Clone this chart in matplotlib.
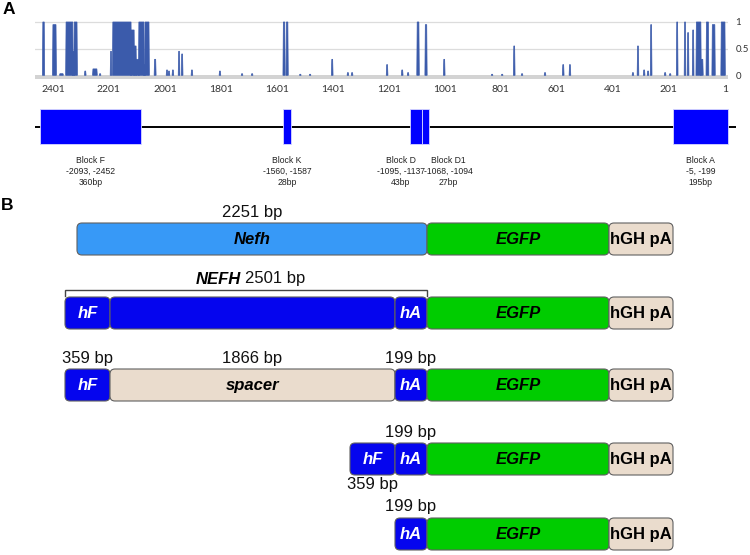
import matplotlib
matplotlib.use("Agg")
import matplotlib.pyplot as plt
from matplotlib.patches import FancyBboxPatch, Rectangle

# ------------------------------------------------------------------
# Panel A data: conservation track (position upstream, score 0..1)
# ------------------------------------------------------------------
tick_positions = [2401, 2201, 2001, 1801, 1601, 1401, 1201, 1001, 801, 601, 401, 201, 1]
ytick_values = [0, 0.5, 1]
ytick_labels = ["0", "0.5", "1"]

peak_left = [2437, 2401, 2376, 2354, 2330, 2325, 2287, 2258, 2234, 2195,
             2187, 2122, 2111, 2104, 2094, 2076, 2072, 2038, 1995, 1988,
             1974, 1952, 1941, 1906, 1806, 1727, 1691, 1578, 1567, 1519,
             1484, 1405, 1349, 1334, 1209, 1155, 1134, 1100, 1071, 1005,
             834, 798, 755, 727, 645, 580, 556, 331, 313, 291,
             277, 266, 216, 198, 173, 145, 134, 116, 103, 87,
             67, 46, 14]
peak_right = [2432, 2390, 2365, 2330, 2325, 2315, 2284, 2244, 2231, 2192,
              2122, 2111, 2104, 2094, 2076, 2072, 2058, 2034, 1992, 1985,
              1971, 1949, 1938, 1903, 1803, 1724, 1688, 1573, 1562, 1516,
              1481, 1402, 1346, 1331, 1206, 1152, 1131, 1094, 1066, 1002,
              831, 795, 752, 724, 642, 577, 553, 328, 310, 288,
              274, 263, 213, 195, 170, 142, 131, 113, 87, 80,
              60, 37, 1]
peak_height = [1.0, 0.95, 0.03, 1.0, 0.45, 1.0, 0.08, 0.12, 0.03, 0.45,
               1.0, 0.85, 0.55, 0.3, 1.0, 0.2, 1.0, 0.3, 0.1, 0.08,
               0.1, 0.45, 0.4, 0.1, 0.08, 0.03, 0.03, 1.0, 1.0, 0.02,
               0.02, 0.3, 0.05, 0.05, 0.2, 0.1, 0.05, 1.0, 0.95, 0.3,
               0.02, 0.02, 0.55, 0.03, 0.05, 0.2, 0.2, 0.05, 0.55, 0.1,
               0.08, 0.95, 0.05, 0.03, 1.0, 1.0, 0.8, 0.85, 1.0, 0.3,
               1.0, 0.95, 1.0]

block_names = ["Block F", "Block K", "Block D", "Block D1", "Block A"]
block_start = [-2093, -1560, -1095, -1068, -5]
block_end = [-2452, -1587, -1137, -1094, -199]
block_len = [360, 28, 43, 27, 195]

# ------------------------------------------------------------------
# Panel B data: constructs
# ------------------------------------------------------------------
construct_segments = [
    ["Nefh", "EGFP", "hGH pA"],
    ["hF", "core", "hA", "EGFP", "hGH pA"],
    ["hF", "spacer", "hA", "EGFP", "hGH pA"],
    ["hF", "hA", "EGFP", "hGH pA"],
    ["hA", "EGFP", "hGH pA"],
]
labels_above = [
    [("Nefh", "2251 bp")],
    [],
    [("hF", "359 bp"), ("spacer", "1866 bp"), ("hA", "199 bp")],
    [("hA", "199 bp")],
    [("hA", "199 bp")],
]
labels_below = [[], [], [], [("hF", "359 bp")], []]
bracket_row = 1
bracket_span = ("hF", "hA")
bracket_name = "NEFH"
bracket_bp = "2501 bp"

# ------------------------------------------------------------------
# Styles / layout
# ------------------------------------------------------------------
FONT = "Liberation Sans"
CONS_COLOR = "#3b5bab"
seg_style = {
    "Nefh":   dict(fc="#3799f7", text="Nefh",   tc="black", style="italic", width=350),
    "core":   dict(fc="#0505ee", text="",       tc="white", style="italic", width=285),
    "spacer": dict(fc="#eadccd", text="spacer", tc="black", style="italic", width=285),
    "hF":     dict(fc="#0505ee", text="hF",     tc="white", style="italic", width=45),
    "hA":     dict(fc="#0505ee", text="hA",     tc="white", style="italic", width=32),
    "EGFP":   dict(fc="#00cc00", text="EGFP",   tc="black", style="italic", width=182),
    "hGH pA": dict(fc="#eadccd", text="hGH pA", tc="black", style="normal", width=64),
}
row_tops = [223, 297, 369, 443, 518]
BOX_H = 32
ROW_END = 673

W, H = 750, 555
fig = plt.figure(figsize=(W / 100, H / 100), dpi=100)

def fr(x0, y0, x1, y1):
    return [x0 / W, 1 - y1 / H, (x1 - x0) / W, (y1 - y0) / H]

# ---------------- conservation plot ----------------
ax1 = fig.add_axes(fr(35, 19, 728, 80))
ax1.set_xlim(2465, -10)
ax1.set_ylim(-0.088, 1.056)
for yv in (0.5, 1.0):
    ax1.axhline(yv, color="#dcdcdc", lw=0.9, zorder=0)
ax1.axhspan(-0.078, 0, color="#d3d3d3", lw=0, zorder=1)
for l, r, h in zip(peak_left, peak_right, peak_height):
    ax1.fill([l + 1.5, l, r, r - 1.5], [0, h, h, 0], color=CONS_COLOR,
             ec=CONS_COLOR, lw=0.5, zorder=2)
ax1.set_xticks(tick_positions)
ax1.set_xticklabels([str(t) for t in tick_positions])
ax1.set_yticks(ytick_values)
ax1.set_yticklabels(ytick_labels)
ax1.yaxis.tick_right()
ax1.tick_params(axis="x", length=0, pad=3.5, labelsize=7.5, labelcolor="#333333")
ax1.tick_params(axis="y", length=0, pad=5.5, labelsize=7, labelcolor="#333333")
for lab in ax1.get_xticklabels() + ax1.get_yticklabels():
    lab.set_fontfamily("Lato")
for s in ax1.spines.values():
    s.set_visible(False)
ax1.patch.set_alpha(0)

# ---------------- block track ----------------
ax2 = fig.add_axes(fr(35, 100, 736, 190))
ax2.set_xlim(2469.8, -23)
ax2.set_ylim(190, 100)
ax2.axis("off")
ax2.axhline(126.5, color="black", lw=1.4, zorder=1)
label_dx = {"Block D": -15, "Block D1": 23}
for name, s, e, n in zip(block_names, block_start, block_end, block_len):
    a, b = abs(s), abs(e)
    lo, hi = min(a, b), max(a, b)
    ax2.add_patch(Rectangle((lo, 109), hi - lo + 1, 35, fc="#0000ff",
                            ec="#d8d8ff", lw=0.6, zorder=2))
    cx = (lo + hi) / 2
    dx = label_dx.get(name, 0)
    for i, txt in enumerate([name, f"{s}, {e}", f"{n}bp"]):
        ax2.annotate(txt, xy=(cx, 160 + 11 * i), xytext=(dx, 0),
                     textcoords="offset pixels", ha="center", va="center",
                     fontsize=6.2, color="#222222", family=FONT)

# ---------------- panel B (pixel coordinates) ----------------
ax3 = fig.add_axes([0, 0, 1, 1])
ax3.set_xlim(0, W)
ax3.set_ylim(H, 0)
ax3.axis("off")
ax3.patch.set_alpha(0)

ax3.text(9, 10, "A", fontsize=12.5, fontweight="bold", family=FONT,
         ha="center", va="center")
ax3.text(7, 206, "B", fontsize=12.5, fontweight="bold", family=FONT,
         ha="center", va="center")

for ri, segs in enumerate(construct_segments):
    top = row_tops[ri]
    total = sum(seg_style[s]["width"] for s in segs)
    x = ROW_END - total
    extents = {}
    for s in segs:
        st = seg_style[s]
        w = st["width"]
        extents[s] = (x, x + w)
        ax3.add_patch(FancyBboxPatch((x, top), w, BOX_H,
                                     boxstyle="round,pad=0,rounding_size=5",
                                     fc=st["fc"], ec="#606060", lw=0.8))
        if st["text"]:
            ax3.text(x + w / 2, top + BOX_H / 2 + 0.5, st["text"], fontsize=12,
                     fontweight="bold", fontstyle=st["style"], color=st["tc"],
                     family=FONT, ha="center", va="center")
        x += w
    for key, txt in labels_above[ri]:
        a, b = extents[key]
        ax3.text((a + b) / 2, top - 11, txt, fontsize=12, family=FONT,
                 ha="center", va="center", color="#111111")
    for key, txt in labels_below[ri]:
        a, b = extents[key]
        ax3.text((a + b) / 2, top + BOX_H + 9.5, txt, fontsize=12, family=FONT,
                 ha="center", va="center", color="#111111")
    if ri == bracket_row:
        xa = extents[bracket_span[0]][0]
        xb = extents[bracket_span[1]][1]
        yb = top - 7
        ax3.plot([xa, xa, xb, xb], [top - 1, yb, yb, top - 1], color="#444444",
                 lw=1.0, solid_joinstyle="miter")
        ax3.text(241, top - 18, bracket_name, fontsize=12, fontweight="bold",
                 fontstyle="italic", family=FONT, ha="right", va="center")
        ax3.text(245, top - 18, bracket_bp, fontsize=12, family=FONT,
                 ha="left", va="center", color="#111111")

fig.savefig("out.png", dpi=100)
